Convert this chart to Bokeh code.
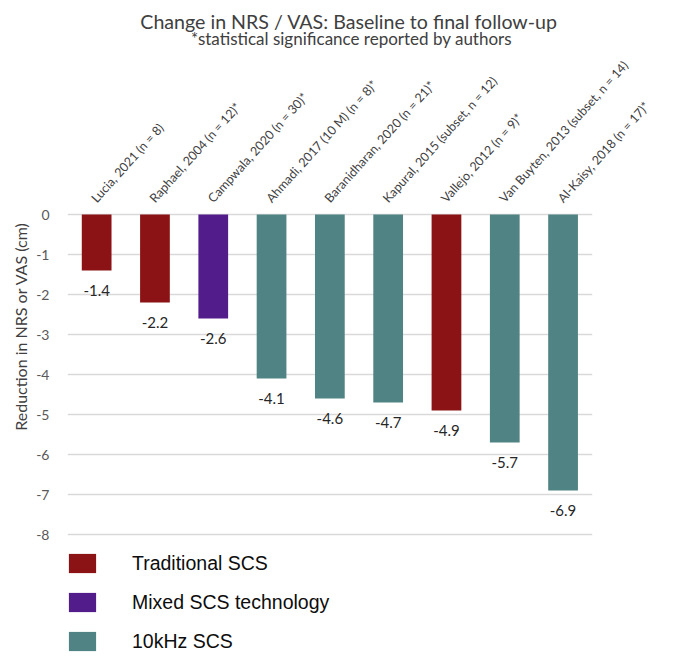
import math
from bokeh.plotting import figure
from bokeh.models import (ColumnDataSource, Range1d, FixedTicker,
                          LabelSet, Label, Legend, LegendItem)
from bokeh.core.properties import value
from bokeh.embed import file_html
from bokeh.resources import INLINE

# ---------------- data ----------------
categories = [
    "Lucia, 2021 (n = 8)",
    "Raphael, 2004 (n = 12)*",
    "Campwala, 2020 (n = 30)*",
    "Ahmadi, 2017 (10 M) (n = 8)*",
    "Baranidharan, 2020 (n = 21)*",
    "Kapural, 2015 (subset, n = 12)",
    "Vallejo, 2012 (n = 9)*",
    "Van Buyten, 2013 (subset, n = 14)",
    "Al-Kaisy, 2018 (n = 17)*",
]
values = [-1.4, -2.2, -2.6, -4.1, -4.6, -4.7, -4.9, -5.7, -6.9]
groups = [
    "Traditional SCS", "Traditional SCS", "Mixed SCS technology",
    "10kHz SCS", "10kHz SCS", "10kHz SCS", "Traditional SCS",
    "10kHz SCS", "10kHz SCS",
]
group_order = ["Traditional SCS", "Mixed SCS technology", "10kHz SCS"]
group_colors = {"Traditional SCS": "#8C1315",
                "Mixed SCS technology": "#521C8A",
                "10kHz SCS": "#508383"}
y_ticks = [0, -1, -2, -3, -4, -5, -6, -7, -8]

title_text = "Change in NRS / VAS:  Baseline to final follow-up"
subtitle_text = "*statistical significance reported by authors"
y_label = "Reduction in NRS or VAS (cm)"

# category slot positions on the x scale (one unit per category)
n_cat = len(categories)
xpos = [i + 0.5 for i in range(n_cat)]

# ---------------- figure ----------------
W, H = 659, 652
p = figure(width=W, height=H, output_backend="svg", toolbar_location=None,
           x_range=Range1d(0, 10.154),
           y_range=Range1d(-10.95, 5.35),
           min_border_left=67, min_border_right=0,
           min_border_top=0, min_border_bottom=0)
p.outline_line_color = None
p.background_fill_color = "white"
p.border_fill_color = "white"

p.xaxis.visible = False
p.xgrid.grid_line_color = None
p.ygrid.grid_line_color = None

yax = p.yaxis[0]
yax.ticker = FixedTicker(ticks=y_ticks)
yax.major_label_overrides = {t: str(t) for t in y_ticks}
yax.axis_line_color = None
yax.major_tick_line_color = None
yax.major_tick_out = 0
yax.major_tick_in = 0
yax.minor_tick_line_color = None
yax.minor_tick_out = 0
yax.major_label_standoff = 18
yax.major_label_text_font = "Lato"
yax.major_label_text_font_size = "14px"
yax.major_label_text_color = "#595959"
yax.axis_label = y_label
yax.axis_label_text_font = "Lato"
yax.axis_label_text_font_size = "16px"
yax.axis_label_text_font_style = "normal"
yax.axis_label_text_color = "#404040"
yax.axis_label_standoff = 3

# horizontal gridlines spanning the category slots only
p.segment(x0=[0] * len(y_ticks), x1=[n_cat] * len(y_ticks),
          y0=y_ticks, y1=y_ticks, line_color="#d9d9d9", line_width=1.5)

# bars, one renderer per group (for the legend)
items = []
for g in group_order:
    idx = [i for i, gg in enumerate(groups) if gg == g]
    src = ColumnDataSource(dict(x=[xpos[i] for i in idx],
                                top=[values[i] for i in idx]))
    r = p.vbar(x="x", top="top", bottom=0, width=0.51, source=src,
               fill_color=group_colors[g], line_color=None)
    items.append(LegendItem(label=g, renderers=[r]))

# value labels
lab_src = ColumnDataSource(dict(x=xpos, y=values,
                                t=["%.1f" % v for v in values]))
p.add_layout(LabelSet(x="x", y="y", text="t", source=lab_src,
                      y_offset=-20, text_align="center",
                      text_baseline="middle", text_font=value("Lato"),
                      text_font_size=value("15px"), text_color="#262626"))

# category labels (rotated)
for xc, c in zip(xpos, categories):
    p.add_layout(Label(x=xc, y=0, text=c, y_offset=14, x_offset=-3,
                       angle=math.radians(48), text_align="left",
                       text_baseline="alphabetic", text_font="Lato",
                       text_font_size="12.5px", text_color="#404040"))

# titles
p.add_layout(Label(x=4.871, y=4.825, text=title_text, text_align="center",
                   text_baseline="middle", text_font="Lato",
                   text_font_size="19.6px", text_color="#404040"))
p.add_layout(Label(x=4.871, y=4.41, text=subtitle_text, text_align="center",
                   text_baseline="middle", text_font="Lato",
                   text_font_size="17px", text_color="#404040"))

legend = Legend(items=items, location=(-2, -1), orientation="vertical",
                glyph_width=34, glyph_height=24, label_height=24,
                spacing=15, padding=0, margin=0, label_standoff=33,
                label_text_font="Liberation Sans",
                label_text_font_size="19.5px", label_text_color="#0d0d0d",
                border_line_color=None, background_fill_alpha=0)
p.add_layout(legend)

open("out.html", "w").write(file_html(p, INLINE))
